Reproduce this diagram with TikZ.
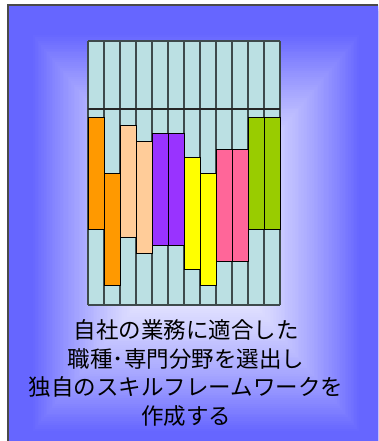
\documentclass[tikz,border=0pt]{standalone}
\usepackage{fontspec}
\newfontfamily\jpfont{Noto Sans CJK JP}
\definecolor{bgEdge}{HTML}{6666FF}
\definecolor{cellFill}{HTML}{BBE0E3}
\definecolor{gridGray}{HTML}{3E4A4C}
\definecolor{borderGray}{HTML}{4A4A4A}
\definecolor{cOrange}{HTML}{FF9900}
\definecolor{cPeach}{HTML}{FFCC99}
\definecolor{cPurple}{HTML}{9933FF}
\definecolor{cYellow}{HTML}{FFFF00}
\definecolor{cPink}{HTML}{FF6699}
\definecolor{cGreen}{HTML}{99CC00}
\tikzset{
  gridline/.style={draw=gridGray, line width=1.4},
  barbox/.style={draw=black, line width=0.9},
  caption/.style={font=\jpfont\fontsize{22.5}{28.7}\selectfont, align=center, text=black, inner sep=0pt}
}
\begin{document}
\begin{tikzpicture}[x=1pt,y=-1pt]
\useasboundingbox (0,0) rectangle (378,441);
\fill[white] (0,0) rectangle (378,441);
% rectangular (box) gradient background
\begin{scope}
\clip (8,5) rectangle (378,441);
\foreach \i in {0,...,119}{
  \pgfmathsetmacro\f{1-\i/120}
  \pgfmathtruncatemacro\p{100*min(1,(\f/0.87)^1.6)}
  \fill[bgEdge!\p!white] (196-188*\f, 233-228*\f) rectangle (196+188*\f, 233+228*\f);
}
\end{scope}
\draw[borderGray, line width=1.2] (8,441) -- (8,5) -- (378,5);
% grid
\fill[cellFill] (88,41) rectangle (280,305);
\foreach \k in {0,...,12}{
  \draw[gridline] (88+16*\k,41) -- (88+16*\k,305);
}
\draw[gridline] (88,41) -- (280,41);
\draw[gridline] (88,305) -- (280,305);
\draw[draw=black!85, line width=1.0] (88,109) -- (280,109);
% bars
\foreach \k/\t/\c in {0/117.3/cOrange, 1/173.3/cOrange, 2/125.3/cPeach, 3/141.3/cPeach,
                      4/133.3/cPurple, 5/133.3/cPurple, 6/157.3/cYellow, 7/173.3/cYellow,
                      8/149.3/cPink, 9/149.3/cPink, 10/117.3/cGreen, 11/117.3/cGreen}{
  \filldraw[barbox, fill=\c] (88+16*\k, \t) rectangle ++(16,112);
}
% caption
\node[caption] (cap) at (186,373) {自社の業務に適合した\\職種･専門分野を選出し\\独自のスキルフレームワークを\\作成する};
\end{tikzpicture}
\end{document}
